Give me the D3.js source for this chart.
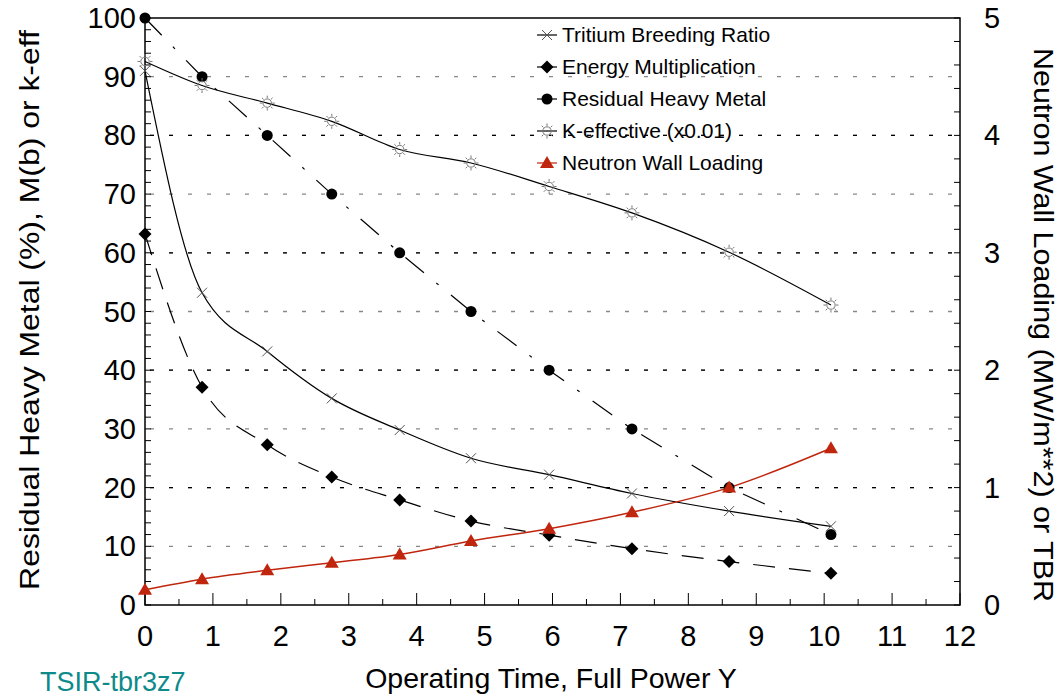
<!DOCTYPE html>
<html>
<head>
<meta charset="utf-8">
<script src="https://cdn.jsdelivr.net/npm/d3@7"></script>
<style>
  body { margin: 0; background: #fff; }
  svg { display: block; font-family: "Liberation Sans", Arial, sans-serif; }
</style>
</head>
<body>
<svg width="1062" height="697"></svg>
<script>
// operating time (full power years) at each calculated point
var years       = [0, 0.84, 1.8, 2.75, 3.75, 4.8, 5.95, 7.17, 8.6, 10.1];
// left axis series
var energyMult  = [63.2, 37.1, 27.3, 21.8, 17.9, 14.3, 11.9, 9.6, 7.4, 5.4];
var residualHM  = [100, 90, 80, 70, 60, 50, 40, 30, 20, 12];
var kEff        = [92.6, 88.5, 85.5, 82.4, 77.6, 75.3, 71.3, 66.8, 60.1, 51.1];
// right axis series
var tbr         = [4.55, 2.66, 2.16, 1.76, 1.49, 1.25, 1.11, 0.95, 0.80, 0.67];
var wallLoading = [0.13, 0.22, 0.295, 0.36, 0.43, 0.545, 0.65, 0.79, 1.0, 1.335];

var legendLabels = ["Tritium Breeding Ratio", "Energy Multiplication", "Residual Heavy Metal",
                    "K-effective (x0.01)", "Neutron Wall Loading"];

var red = "#c0260d";

var svg = d3.select("svg");
var x = d3.scaleLinear().domain([0, 12]).range([145, 960]);
var yL = d3.scaleLinear().domain([0, 100]).range([605, 18]);
var yR = d3.scaleLinear().domain([0, 5]).range([605, 18]);

// grid lines
svg.append("g").selectAll("line")
    .data(d3.range(10, 100, 10))
    .enter().append("line")
    .attr("x1", x(0) + 5).attr("x2", x(12))
    .attr("y1", yL).attr("y2", yL)
    .attr("stroke", "#888").attr("stroke-width", 1.3)
    .attr("stroke-dasharray", "4,15");
svg.append("g").selectAll("line")
    .data(d3.range(1, 5))
    .enter().append("line")
    .attr("x1", x(0) + 5).attr("x2", x(12))
    .attr("y1", yR).attr("y2", yR)
    .attr("stroke", "#000").attr("stroke-width", 1.3)
    .attr("stroke-dasharray", "4,15");

// axes (ticks inside the frame)
var fs = 29;
var bottom = svg.append("g").attr("transform", "translate(0,605)");
bottom.selectAll("line")
    .data(d3.range(0, 12.01, 0.5))
    .enter().append("line")
    .attr("x1", x).attr("x2", x)
    .attr("y1", 0).attr("y2", function(d) { return d % 1 == 0 ? -12 : -6; })
    .attr("stroke", "#000");
bottom.selectAll("text")
    .data(d3.range(0, 13))
    .enter().append("text")
    .attr("x", x).attr("y", 41)
    .attr("text-anchor", "middle").attr("font-size", fs)
    .text(function(d) { return d; });

var left = svg.append("g").attr("transform", "translate(145,0)");
left.selectAll("line")
    .data(d3.range(0, 101, 2))
    .enter().append("line")
    .attr("x1", 0).attr("x2", 6)
    .attr("y1", yL).attr("y2", yL)
    .attr("stroke", "#000");
left.selectAll("text")
    .data(d3.range(0, 101, 10))
    .enter().append("text")
    .attr("x", -9).attr("y", function(d) { return yL(d) + 10; })
    .attr("text-anchor", "end").attr("font-size", fs)
    .text(function(d) { return d; });

var right = svg.append("g").attr("transform", "translate(960,0)");
right.selectAll("line")
    .data(d3.range(0, 26))
    .enter().append("line")
    .attr("x1", 0).attr("x2", -6)
    .attr("y1", function(d) { return yR(d / 5); }).attr("y2", function(d) { return yR(d / 5); })
    .attr("stroke", "#000");
right.selectAll("text")
    .data(d3.range(0, 6))
    .enter().append("text")
    .attr("x", 24).attr("y", function(d) { return yR(d) + 10; })
    .attr("font-size", fs)
    .text(function(d) { return d; });

// frame
svg.append("rect")
    .attr("x", x(0)).attr("y", yL(100))
    .attr("width", x(12) - x(0)).attr("height", yL(0) - yL(100))
    .attr("fill", "none").attr("stroke", "#000").attr("stroke-width", 1.5);

// axis titles
svg.append("text")
    .attr("x", 551).attr("y", 688)
    .attr("text-anchor", "middle").attr("font-size", 28.5)
    .text("Operating Time, Full Power Y");
svg.append("text")
    .attr("transform", "translate(39,310) rotate(-90) scale(1.14,1)")
    .attr("text-anchor", "middle").attr("font-size", 28)
    .text("Residual Heavy Metal (%), M(b) or k-eff");
svg.append("text")
    .attr("transform", "translate(1034,325) rotate(90) scale(1.09,1)")
    .attr("text-anchor", "middle").attr("font-size", 28)
    .text("Neutron Wall Loading (MW/m**2) or TBR");
svg.append("text")
    .attr("x", 40).attr("y", 691)
    .attr("font-size", 27).attr("fill", "#0e8a8a")
    .text("TSIR-tbr3z7");

// lines
function pts(vals, yScale) {
  return years.map(function(t, i) { return [x(t), yScale(vals[i])]; });
}
var smooth = d3.line().curve(d3.curveMonotoneX);
var straight = d3.line();

svg.append("path").attr("d", smooth(pts(tbr, yR)))
    .attr("fill", "none").attr("stroke", "#000").attr("stroke-width", 1.2);
svg.append("path").attr("d", smooth(pts(energyMult, yL)))
    .attr("fill", "none").attr("stroke", "#000").attr("stroke-width", 1.2)
    .attr("stroke-dasharray", "22,14");
svg.append("path").attr("d", straight(pts(residualHM, yL)))
    .attr("fill", "none").attr("stroke", "#000").attr("stroke-width", 1.2)
    .attr("stroke-dasharray", "24,16,3,16");
svg.append("path").attr("d", smooth(pts(kEff, yL)))
    .attr("fill", "none").attr("stroke", "#000").attr("stroke-width", 1.2);
svg.append("path").attr("d", smooth(pts(wallLoading, yR)))
    .attr("fill", "none").attr("stroke", red).attr("stroke-width", 1.5);

// marker shapes
var cross = "M-5,-5L5,5M-5,5L5,-5";
var diamond = "M0,-6.5L6.5,0L0,6.5L-6.5,0Z";
var triangle = "M0,-7L7,5L-7,5Z";
var sun = "M0,-5L0,-7.5M0,5L0,7.5M-5,0L-7.5,0M5,0L7.5,0" +
          "M3.6,3.6L5.3,5.3M-3.6,3.6L-5.3,5.3M3.6,-3.6L5.3,-5.3M-3.6,-3.6L-5.3,-5.3";

function markers(vals, yScale, draw) {
  svg.append("g").selectAll("g")
      .data(pts(vals, yScale))
      .enter().append("g")
      .attr("transform", function(d) { return "translate(" + d[0] + "," + d[1] + ")"; })
      .each(function() { draw(d3.select(this)); });
}
function drawCross(g) { g.append("path").attr("d", cross).attr("stroke", "#555").attr("fill", "none"); }
function drawDiamond(g) { g.append("path").attr("d", diamond).attr("fill", "#000"); }
function drawDot(g) { g.append("circle").attr("r", 5.5).attr("fill", "#000"); }
function drawSun(g) {
  g.append("circle").attr("r", 4.2).attr("fill", "none").attr("stroke", "#777");
  g.append("path").attr("d", sun).attr("stroke", "#777").attr("fill", "none");
}
function drawTri(g) { g.append("path").attr("d", triangle).attr("fill", red); }

markers(tbr, yR, drawCross);
markers(energyMult, yL, drawDiamond);
markers(residualHM, yL, drawDot);
markers(kEff, yL, drawSun);
markers(wallLoading, yR, drawTri);

// legend
var legendDraw = [drawCross, drawDiamond, drawDot, drawSun, drawTri];
var legend = svg.append("g").selectAll("g")
    .data(legendLabels)
    .enter().append("g")
    .attr("transform", function(d, i) { return "translate(547," + (35 + i * 32) + ")"; });
legend.append("line")
    .attr("x1", -10).attr("x2", 10)
    .attr("stroke", function(d, i) { return i == 4 ? red : "#000"; })
    .attr("stroke-width", 1.2);
legend.each(function(d, i) { legendDraw[i](d3.select(this)); });
legend.append("text")
    .attr("x", 15).attr("y", 7)
    .attr("font-size", 21)
    .text(function(d) { return d; });
</script>
</body>
</html>
